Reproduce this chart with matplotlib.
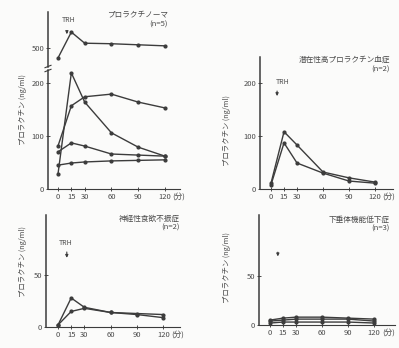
import matplotlib
matplotlib.use("Agg")
import matplotlib.pyplot as plt

plt.rcParams['font.family'] = ['Noto Sans CJK JP', 'DejaVu Sans']

W, H = 399, 348
INK = '#3c3c3c'
TXT = '#4a4a4a'

# ---- data ----
times = [0, 15, 30, 60, 90, 120]
xtick_labels = ['0', '15', '30', '60', '90', '120']

# Prolactinoma (n=5)
prl_top = [481, 530, 509, 508, 506, 504]
prl_b = [28, 219, 164, 106, 79, 62]
prl_c = [81, 157, 174, 179, 164, 153]
prl_d = [70, 87, 81, 66, 64, 62]
prl_e = [45, 49, 51, 53, 54, 55]

# Latent hyperprolactinemia (n=2)
lat_1 = [11, 108, 83, 32, 21, 13]
lat_2 = [8, 87, 49, 30, 15, 11]

# Anorexia nervosa (n=2)
an_1 = [2, 28, 19, 14, 12, 9]
an_2 = [2, 15, 18, 14, 13, 12]

# Hypopituitarism (n=3)
hp_1 = [5, 7, 8, 8, 7, 6]
hp_2 = [2, 3, 3, 3, 3, 2]
hp_3 = [4, 5, 6, 6, 6, 4]

fig = plt.figure(figsize=(W / 100, H / 100), dpi=100)
fig.patch.set_facecolor('#fbfbfa')


def rect(l, t, r, b):
    return [l / W, 1 - b / H, (r - l) / W, (b - t) / H]


def style(ax, bottom=True):
    ax.set_facecolor('none')
    for s in ['top', 'right']:
        ax.spines[s].set_visible(False)
    ax.spines['left'].set_color(INK)
    ax.spines['left'].set_linewidth(1.1)
    ax.spines['bottom'].set_color(INK)
    ax.spines['bottom'].set_linewidth(0.8)
    ax.spines['bottom'].set_visible(bottom)
    ax.tick_params(axis='both', labelsize=5.5, colors=TXT, length=2.5,
                   width=0.7, direction='inout', pad=1.5)


def xaxis(ax, xmin, xmax):
    ax.set_xlim(xmin, xmax)
    ax.set_xticks(times)
    ax.set_xticklabels(xtick_labels)
    ax.annotate('(分)', xy=(times[-1], 0), xycoords=('data', 'axes fraction'),
                xytext=(5.5, -2.75), textcoords='offset points', fontsize=5.5,
                color=TXT, ha='left', va='top', annotation_clip=False)


def lines(ax, series):
    for s in series:
        ax.plot(times, s, color=INK, lw=1.0, marker='o', ms=2.0,
                clip_on=False)


def arrow(ax, x, y0, y1):
    ax.annotate('', xy=(x, y1), xytext=(x, y0),
                arrowprops=dict(arrowstyle='-|>', color=INK, lw=0.8,
                                mutation_scale=4), annotation_clip=False)


def ftext(x, y, s, **kw):
    fig.text(x / W, 1 - y / H, s, color=TXT, **kw)


# ---------------- Top-left: prolactinoma (broken axis) ----------------
ax_lo = fig.add_axes(rect(48, 70, 180, 189))
style(ax_lo)
xaxis(ax_lo, -11.2, 137)
ax_lo.set_ylim(0, 224.5)
ax_lo.set_yticks([0, 100, 200])
lines(ax_lo, [prl_b, prl_c, prl_d, prl_e])

ax_hi = fig.add_axes(rect(48, 12, 180, 67))
style(ax_hi, bottom=False)
ax_hi.set_xlim(-11.2, 137)
ax_hi.set_xticks([])
ax_hi.set_ylim(464, 568)
ax_hi.set_yticks([500])
lines(ax_hi, [prl_top])
arrow(ax_hi, 10, 536, 521)
ax_hi.text(12, 553, 'TRH', fontsize=5, color=TXT, ha='center', va='center')
# break marks
for yy in (66.5, 70.5):
    fig.add_artist(plt.Line2D([45 / W, 51 / W],
                              [1 - (yy + 1.2) / H, 1 - (yy - 1.2) / H],
                              color=INK, lw=0.8))

ftext(168, 15, 'プロラクチノーマ', fontsize=5.5, ha='right', va='center')
ftext(168, 25, '(n=5)', fontsize=5.5, ha='right', va='center')
ftext(23, 110, 'プロラクチン (ng/ml)', fontsize=5.3, rotation=90,
      ha='center', va='center')

# ---------------- Top-right: latent hyperprolactinemia ----------------
ax2 = fig.add_axes(rect(260, 57, 393, 189))
style(ax2)
xaxis(ax2, -12.7, 140.7)
ax2.set_ylim(0, 249)
ax2.set_yticks([0, 100, 200])
lines(ax2, [lat_1, lat_2])
arrow(ax2, 7, 190, 170)
ax2.text(13, 202, 'TRH', fontsize=5, color=TXT, ha='center', va='center')
ftext(390, 60, '潜在性高プロラクチン血症', fontsize=5.5, ha='right', va='center')
ftext(390, 70, '(n=2)', fontsize=5.5, ha='right', va='center')
ftext(227, 131, 'プロラクチン (ng/ml)', fontsize=5.3, rotation=90,
      ha='center', va='center')

# ---------------- Bottom-left: anorexia nervosa ----------------
ax3 = fig.add_axes(rect(46, 215, 180, 327))
style(ax3)
xaxis(ax3, -13.7, 139)
ax3.set_ylim(0, 108)
ax3.set_yticks([0, 50])
lines(ax3, [an_1, an_2])
arrow(ax3, 10, 75, 64)
ax3.text(9, 81, 'TRH', fontsize=5, color=TXT, ha='center', va='center')
ftext(180, 219, '神経性食欲不振症', fontsize=5.5, ha='right', va='center')
ftext(180, 228, '(n=2)', fontsize=5.5, ha='right', va='center')
ftext(23, 262, 'プロラクチン (ng/ml)', fontsize=5.3, rotation=90,
      ha='center', va='center')

# ---------------- Bottom-right: hypopituitarism ----------------
ax4 = fig.add_axes(rect(259, 215, 395, 325))
style(ax4)
xaxis(ax4, -12.7, 144)
ax4.set_ylim(0, 112)
ax4.set_yticks([0, 50])
lines(ax4, [hp_1, hp_2, hp_3])
arrow(ax4, 9, 77, 67)
ftext(390, 220, '下垂体機能低下症', fontsize=5.5, ha='right', va='center')
ftext(390, 229, '(n=3)', fontsize=5.5, ha='right', va='center')
ftext(227, 268, 'プロラクチン (ng/ml)', fontsize=5.3, rotation=90,
      ha='center', va='center')

fig.savefig('out.png', dpi=100, facecolor=fig.get_facecolor())
